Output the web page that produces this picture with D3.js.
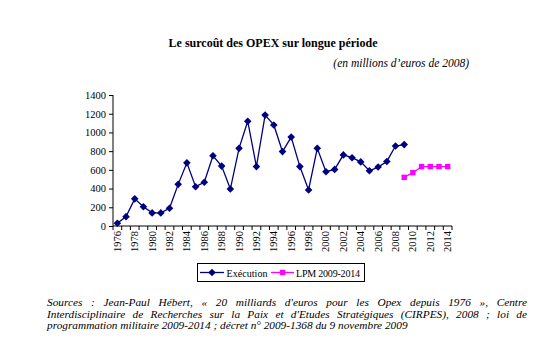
<!DOCTYPE html>
<html><head><meta charset="utf-8">
<script src="https://cdn.jsdelivr.net/npm/d3@7"></script>
<style>body{margin:0;background:#fff}svg{display:block}</style>
</head><body>
<svg id="c" width="543" height="349"></svg>
<script>
const years = d3.range(1976, 2015).map(String);
const execYears = d3.range(1976, 2010).map(String);
const execValues = [30,100,290,205,140,140,190,445,675,420,467,750,640,395,830,1120,635,
  1185,1080,795,950,635,385,830,580,605,760,730,685,590,630,690,855,870];
const lpmYears = ["2009","2010","2011","2012","2013","2014"];
const lpmValues = [520,570,635,635,635,635];
const yTicks = [0,200,400,600,800,1000,1200,1400];
const title = "Le surcoût des OPEX sur longue période";
const subtitle = "(en millions d’euros de 2008)";
const seriesNames = ["Exécution","LPM 2009-2014"];
const sourceLines = [
 "Sources : Jean-Paul Hébert, « 20 milliards d'euros pour les Opex depuis 1976 », Centre",
 "Interdisciplinaire de Recherches sur la Paix et d'Etudes Stratégiques (CIRPES), 2008 ; loi de",
 "programmation militaire 2009-2014 ; décret n° 2009-1368 du 9 novembre 2009"
];

const svg = d3.select("#c");
const font = "'Liberation Serif','Times New Roman',serif";
const navy = "#000080", mag = "#FF00FF";

const x = d3.scaleBand().domain(years).range([113, 452]);
const y = d3.scaleLinear().domain([0,1400]).range([226, 95]);
const cx = d => x(d) + x.bandwidth()/2;

svg.append("text").attr("x",273).attr("y",47).attr("text-anchor","middle")
  .attr("font-family",font).attr("font-weight","bold").attr("font-size",12).text(title);
svg.append("text").attr("x",469).attr("y",67).attr("text-anchor","end")
  .attr("font-family",font).attr("font-style","italic").attr("font-size",11.5).text(subtitle);

// Y axis
const ya = svg.append("g").attr("transform","translate(113,0)")
  .call(d3.axisLeft(y).tickValues(yTicks).tickFormat(d3.format("d")).tickSize(4).tickPadding(3));
ya.select(".domain").attr("stroke","#000").attr("d","M0,95V226");
ya.selectAll("text").attr("font-family",font).attr("font-size",10.5).attr("fill","#000");
ya.selectAll("line").attr("stroke","#000");

// X axis
const xa = svg.append("g").attr("transform","translate(0,226)");
xa.append("line").attr("x1",113).attr("x2",452).attr("stroke","#000");
xa.selectAll("line.t").data(years.concat(["end"])).join("line").attr("class","t")
  .attr("x1",(d,i)=> i<years.length ? x(d) : 452).attr("x2",(d,i)=> i<years.length ? x(d) : 452)
  .attr("y1",0).attr("y2",4).attr("stroke","#000");
xa.selectAll("text").data(years.filter((d,i)=>i%2===0)).join("text")
  .attr("transform",d=>`translate(${cx(d)+3.5},5) rotate(-90)`)
  .attr("text-anchor","end").attr("font-family",font).attr("font-size",10.5).text(d=>d);

// Lines
const exec = execYears.map((d,i)=>({k:d,v:execValues[i]}));
const lpm = lpmYears.map((d,i)=>({k:d,v:lpmValues[i]}));
const line = d3.line().x(d=>cx(d.k)).y(d=>y(d.v));
svg.append("path").datum(exec).attr("d",line).attr("fill","none").attr("stroke",navy).attr("stroke-width",1.3);
svg.append("path").datum(lpm).attr("d",line).attr("fill","none").attr("stroke",mag).attr("stroke-width",1.3);
const diamond = "M0,-3.8L3.8,0L0,3.8L-3.8,0Z";
svg.selectAll("path.dm").data(exec).join("path").attr("class","dm")
  .attr("d",diamond).attr("transform",d=>`translate(${cx(d.k)},${y(d.v)})`).attr("fill",navy);
svg.selectAll("rect.sq").data(lpm).join("rect").attr("class","sq")
  .attr("x",d=>cx(d.k)-2.7).attr("y",d=>y(d.v)-2.7).attr("width",5.4).attr("height",5.4).attr("fill",mag);

// Legend
const lg = svg.append("g");
lg.append("rect").attr("x",197.5).attr("y",263.5).attr("width",167).attr("height",18)
  .attr("fill","#fff").attr("stroke","#000").attr("stroke-width",1);
lg.append("line").attr("x1",200).attr("x2",224).attr("y1",272.5).attr("y2",272.5).attr("stroke",navy).attr("stroke-width",1.3);
lg.append("path").attr("d",diamond).attr("transform","translate(212,272.5)").attr("fill",navy);
lg.append("text").attr("x",226.5).attr("y",276.5).attr("font-family",font).attr("font-size",10).attr("textLength",41).text(seriesNames[0]);
lg.append("line").attr("x1",271).attr("x2",294).attr("y1",272.5).attr("y2",272.5).attr("stroke",mag).attr("stroke-width",1.3);
lg.append("rect").attr("x",280).attr("y",269.8).attr("width",5.4).attr("height",5.4).attr("fill",mag);
lg.append("text").attr("x",296).attr("y",276.5).attr("font-family",font).attr("font-size",10).attr("textLength",64).text(seriesNames[1]);

// Sources, justified
const left = 47, right = 527, base = [306, 317.5, 329];
sourceLines.forEach((s,i)=>{
  const t = svg.append("text").attr("x",left).attr("y",base[i])
    .attr("font-family",font).attr("font-style","italic").attr("font-size",11.3).text(s);
  if (i < sourceLines.length-1) {
    const w = t.node().getComputedTextLength();
    const n = (s.match(/ /g)||[]).length;
    t.attr("word-spacing", (right-left-w)/n);
  }
});
</script>
</body></html>
